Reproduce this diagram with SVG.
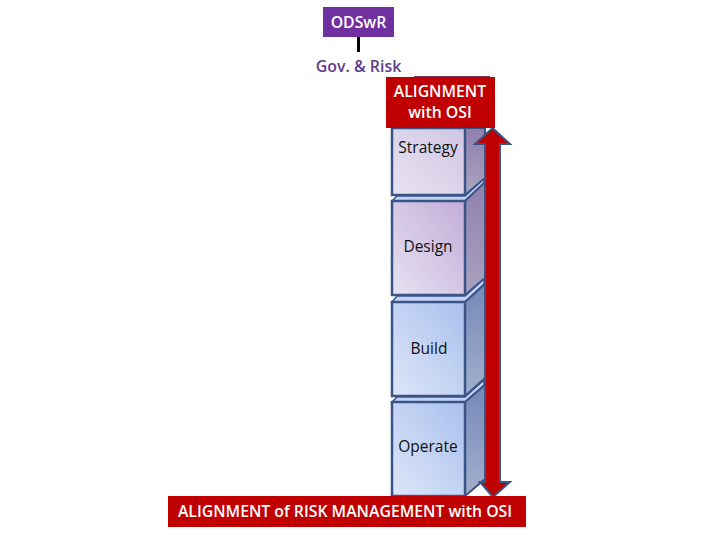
<svg xmlns="http://www.w3.org/2000/svg" width="720" height="540" viewBox="0 0 720 540">
<style>
text{font-family:"Open Sans","Liberation Sans",sans-serif;text-anchor:middle}
.w{fill:#fff;font-weight:600;font-size:15.800px}
.k{fill:#111;font-size:15.500px}
.f{stroke:#3a5488;stroke-width:2.500}
.s{stroke:#3a5488;stroke-width:2}
.t{fill:#c3d3f5;stroke:#3a5488;stroke-width:1.500}
</style>
<defs>
<linearGradient id="gs" x1="0" y1="1" x2="1" y2="0"><stop offset="0" stop-color="#e8e2f0"/><stop offset="1" stop-color="#d0c6e4"/></linearGradient>
<linearGradient id="gd" x1="0" y1="1" x2="1" y2="0"><stop offset="0" stop-color="#e6e2f2"/><stop offset="1" stop-color="#c3acd8"/></linearGradient>
<linearGradient id="gb" x1="0" y1="1" x2="1" y2="0"><stop offset="0" stop-color="#dde6f9"/><stop offset="1" stop-color="#a9c0ec"/></linearGradient>
<linearGradient id="sp" x1="0" y1="0" x2="0" y2="1"><stop offset="0" stop-color="#8f80ad"/><stop offset="1" stop-color="#a9a3bf"/></linearGradient>
<linearGradient id="sb" x1="0" y1="0" x2="0" y2="1"><stop offset="0" stop-color="#7488b8"/><stop offset="1" stop-color="#a3b0cc"/></linearGradient>
</defs>

<g id="connectors">
<path d="M358.500 36V52" fill="none" stroke="#000" stroke-width="3"/>
</g>

<g id="odswr">
<rect x="323" y="7" width="71" height="30" fill="#7030a0"/>
<text x="358.500" y="27.500" class="w">ODSwR</text>
</g>
<g id="gov-risk">
<text x="358.500" y="72" font-size="15.900" font-weight="600" fill="#5f3d8c">Gov. &amp; Risk</text>
</g>

<g id="strategy">
<polygon points="465,128 485,128 485,178 465,195" fill="url(#sp)" class="s"/>
<rect x="392" y="128" width="73" height="67" fill="url(#gs)" class="f"/>
<text x="428" y="153" class="k">Strategy</text>
</g>
<g id="design">
<polygon points="392,201 397,196 465,196 484,179 484,183 465,201" class="t"/>
<polygon points="465,201 485,182 485,278 465,295" fill="url(#sp)" class="s"/>
<rect x="392" y="201" width="73" height="94" fill="url(#gd)" class="f"/>
<text x="428" y="252" class="k">Design</text>
</g>
<g id="build">
<polygon points="392,302 397,296 465,296 484,279 484,284 465,302" class="t"/>
<polygon points="465,302 485,284 485,378 465,396" fill="url(#sb)" class="s"/>
<rect x="392" y="302" width="73" height="94" fill="url(#gb)" class="f"/>
<text x="429" y="354" class="k">Build</text>
</g>
<g id="operate">
<polygon points="392,402 397,397 465,397 484,380 484,385 465,402" class="t"/>
<polygon points="465,402 485,385 485,479 465,496" fill="url(#sb)" class="s"/>
<rect x="392" y="402" width="73" height="94" fill="url(#gb)" class="f"/>
<text x="428" y="452" class="k">Operate</text>
</g>

<g id="double-arrow">
<polygon points="492.500,128 510,144 500,144 500,482 510,482 493,497 480,482 485,482 485,144 475,144" fill="#c00000" stroke="#3a5488" stroke-width="2"/>
</g>

<g id="alignment-osi">
<rect x="414" y="76" width="76" height="3" fill="#7b3050"/>
<rect x="386" y="77" width="109" height="51" fill="#c00000"/>
<text x="440" y="97" class="w">ALIGNMENT</text>
<text x="440" y="118" class="w">with OSI</text>
</g>
<g id="alignment-risk">
<rect x="168" y="496" width="358" height="31" fill="#c00000"/>
<text x="345" y="517" class="w">ALIGNMENT of RISK MANAGEMENT with OSI</text>
</g>
</svg>
